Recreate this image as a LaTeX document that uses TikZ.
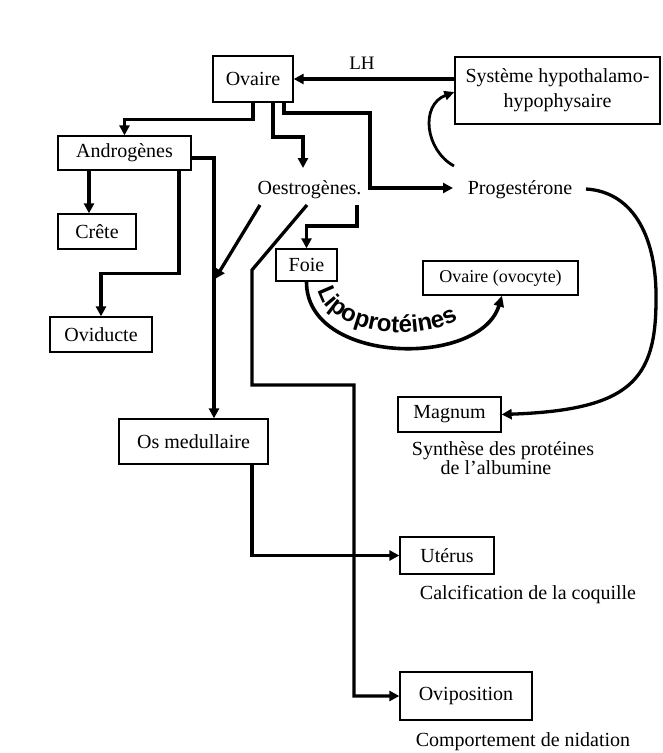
\documentclass[tikz,border=0pt]{standalone}
\usepackage{fontspec}
\setmainfont{Liberation Serif}
\newfontfamily\lipofont{Liberation Sans}
\usetikzlibrary{arrows.meta,decorations.text}

\begin{document}
\begin{tikzpicture}[x=1pt,y=-1pt,
  box/.style={draw,line width=1.3pt,inner sep=0pt,font=\fontsize{20}{25}\selectfont,align=center},
  lbl/.style={inner sep=0pt,font=\fontsize{20}{23}\selectfont,anchor=base},
  conn/.style={line width=3.3pt,-{Triangle[length=10pt,width=10pt]}},
  lipo/.style={line width=3.6pt,-{Triangle[length=11pt,width=10pt]}}]
\useasboundingbox (0,0) rectangle (662,753);

% boxes
\node[box,minimum width=80pt,minimum height=46pt] (ovaire) at (253,79) {Ovaire};
\node[box,minimum width=205pt,minimum height=67pt] (sys) at (557.5,90.5) {Système hypothalamo-\\hypophysaire};
\node[box,minimum width=133pt,minimum height=34pt] (andro) at (124.5,153) {Androgènes};
\node[box,minimum width=78pt,minimum height=35pt] (crete) at (97,231.5) {Crête};
\node[box,minimum width=102pt,minimum height=35pt] (oviducte) at (101,334.5) {Oviducte};
\node[box,minimum width=149pt,minimum height=45pt] (osmed) at (193.5,441.5) {Os medullaire};
\node[box,minimum width=61pt,minimum height=32pt] (foie) at (306.5,265) {Foie};
\node[box,minimum width=155pt,minimum height=34pt,font=\fontsize{18}{20}\selectfont] (ovocyte) at (500.5,278) {Ovaire (ovocyte)};
\node[box,minimum width=103pt,minimum height=35pt] (magnum) at (449.5,414.5) {Magnum};
\node[box,minimum width=94pt,minimum height=37pt] (uterus) at (447,555.5) {Utérus};
\node[box,minimum width=132pt,minimum height=48pt] (ovipo) at (466,696) {Oviposition};

% free labels
\node[lbl] (oestro) at (309.5,194) {Oestrogènes.};
\node[lbl] (proges) at (520,194) {Progestérone};
\node[lbl,font=\fontsize{19}{21}\selectfont] (lh) at (362,69) {LH};
\node[lbl] (synthA) at (503,455) {Synthèse des protéines};
\node[lbl] (synthB) at (496,474) {de l’albumine};
\node[lbl] (calc) at (528,599) {Calcification de la coquille};
\node[lbl] (comp) at (523,746) {Comportement de nidation};

% connector end points next to the free labels
\coordinate (oeIn) at (303,168);
\coordinate (oeA) at (260,205);
\coordinate (oeB) at (307,205);
\coordinate (oeC) at (357,205);
\coordinate (oeMerge) at (215,279);
\coordinate (prIn) at (453,188);
\coordinate (prOut) at (586,189);
\coordinate (prUp) at (454,166);

% LH and feedback
\draw[conn] (sys.west |- ovaire.east) -- (ovaire.east);
\draw[line width=2.8pt,-{Triangle[length=10pt,width=9pt]}] (prUp) .. controls (425,150) and (420,105) .. ([yshift=-1.5pt]sys.west);

% from the ovary
\draw[conn] (ovaire.south) -- ++(0,17) -| (andro.north);
\draw[conn] ([xshift=20pt]ovaire.south) |- (303,137) -- (oeIn);
\draw[conn] ([xshift=31pt]ovaire.south) |- (370,113) |- (prIn);

% androgens
\draw[conn] ([xshift=-8pt]crete.north |- andro.south) -- ([xshift=-8pt]crete.north);
\draw[conn] ([xshift=54.5pt]andro.south) -- ++(0,103) -| (oviducte.north);
\draw[conn] ([yshift=-5pt]andro.east) -| ([xshift=20.5pt]osmed.north);

% oestrogens
\draw[conn] (oeA) -- (oeMerge);
\draw[conn] (oeB) -- ++(-55,65) -- ++(0,115) -- ++(102,0) |- (ovipo.west);
\draw[conn] (oeC) -- ++(0,21) -| (foie.north);
\draw[conn] ([xshift=58.5pt]osmed.south) |- (uterus.west);

% lipoproteins: arrow, and its label set on an inner arc
\draw[lipo] (foie.south) .. controls (306,365) and (480,368) .. ([xshift=1.5pt]ovocyte.south);
\path[decorate,decoration={text along path,
  text={|\lipofont\bfseries\fontsize{24}{24}\selectfont|Lipoprotéines},
  text align={left indent=3pt}}]
  (318,287) .. controls (322,337) and (442,350) .. (476,304);

% progesterone to magnum
\draw[conn] (prOut) .. controls (635,192) and (657,240) .. (656,300)
  .. controls (656,380) and (630,410) .. (magnum.east);
\end{tikzpicture}
\end{document}
